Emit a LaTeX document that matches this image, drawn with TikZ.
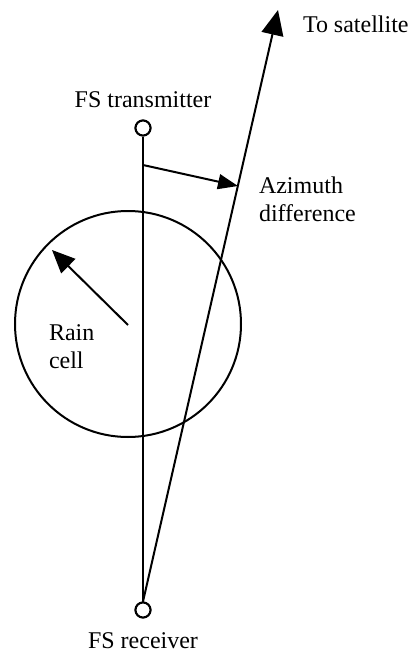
\documentclass[tikz,border=0pt]{standalone}
\usepackage{fontspec}
\setmainfont{Liberation Serif}
\usetikzlibrary{arrows.meta}

\begin{document}
\begin{tikzpicture}[
        x=1pt, y=-1pt,
        line width=2pt,
        station/.style={
        circle, draw=black,
        inner sep=0pt, minimum size=15pt,
        fill=white},
        caption/.style={
        inner sep=0pt, align=left,
        font=\fontsize{24}{28}\selectfont},
        ]

        \useasboundingbox (0,0) rectangle (410,653);

        % rain cell
        \node (cell) [circle, draw=black, inner sep=0pt, minimum size=226pt] at (128,324){};
        \coordinate (raintail) at (128,325);
        \coordinate (raintip) at (52,250);
        \draw [-{Triangle[length=23pt,width=20pt]}] (raintail) -- (raintip);
        \node (rainlabel) [caption, anchor=west] at (48,347){Rain\\cell};

        % stations
        \node (tx) [station] at (143,128){};
        \node (rx) [station] at (143,610){};
        \node (txlabel) [caption, anchor=base] at (143,107){FS transmitter};
        \node (rxlabel) [caption, anchor=base] at (143,648){FS receiver};

        % path to satellite
        \coordinate (sat) at (278,10);
        \node (satlabel) [caption, anchor=base west] at (302,32){To satellite};

        % azimuth
        \coordinate (azfoot) at (143,165);
        \coordinate (aztip) at (238,186);
        \node (azlabel) [caption, anchor=west] at (258,199){Azimuth\\difference};

        \draw (tx) -- (rx);
        \draw [-{Triangle[length=25pt,width=22pt]}] (rx.north) -- (sat);
        \draw [-{Triangle[length=20pt,width=15pt]}] (azfoot) -- (aztip);
        \node [station] at (tx){};
        \node [station] at (rx){};
    \end{tikzpicture}
\end{document}
